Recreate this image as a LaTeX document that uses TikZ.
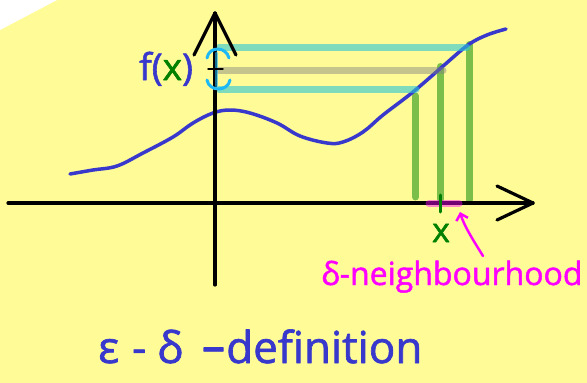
\documentclass[tikz,border=0pt]{standalone}
\usepackage{fontspec}
\setmainfont{Open Sans}[FakeBold=1.5]
\usetikzlibrary{arrows.meta}
\definecolor{bgyellow}{RGB}{255,252,152}
\definecolor{penblue}{RGB}{56,56,204}
\definecolor{bandteal}{RGB}{40,200,215}
\definecolor{bandgray}{RGB}{128,128,128}
\definecolor{greenpen}{RGB}{124,190,74}
\definecolor{darkgreen}{RGB}{0,128,0}
\definecolor{pinkpen}{RGB}{255,0,255}
\definecolor{cyanpen}{RGB}{30,185,245}
\begin{document}
\begin{tikzpicture}[x=1pt,y=-1pt,line cap=round,line join=round,
  axisline/.style={line width=3.2pt,black},
  fcurve/.style={line width=3.5pt,penblue},
  epsband/.style={line width=7pt,bandteal,opacity=0.6},
  midband/.style={line width=7pt,bandgray,opacity=0.45},
  deltaline/.style={line width=7pt,greenpen},
  bracket/.style={line width=3pt,cyanpen},
  lbl/.style={inner sep=0pt,anchor=base west,font=\bfseries}]
\fill[bgyellow] (0,0) rectangle (587,383);
\fill[white] (0,0) -- (57,0) -- (0,30) -- cycle;
\useasboundingbox (0,0) rectangle (587,383);
% delta verticals
\draw[deltaline] (415.5,96) -- (415.5,197);
\draw[deltaline] (440.5,66.5) -- (440.5,199);
\draw[deltaline] (469,44.5) -- (469,200);
% function curve
\draw[fcurve] plot[smooth,tension=0.6] coordinates {(70,174) (93,170) (117,166) (143,153) (173,137) (193,123) (213,113) (230,110) (250,113) (277,123) (300,136) (327,143) (343,142) (363,132) (383,115) (413,92) (442,67) (468,45) (487,35) (506,29)};
% epsilon bands
\draw[epsband] (219,47) -- (467,47);
\draw[midband] (219,70.5) -- (443,70.5);
\draw[epsband] (219,89) -- (416,89);
% axes
\coordinate (ytip) at (215,13);
\coordinate (xtip) at (533,203);
\draw[axisline] (215,285) -- (ytip);
\draw[axisline] (194,55) -- (ytip) -- (236,55);
\draw[axisline] (8,203) -- (xtip);
\draw[axisline] (497,186) -- (xtip) -- (497,220);
% epsilon bracket
\draw[bracket] (207,58) .. controls (209,46) and (226,46) .. (229,58);
\draw[bracket] (207,80) .. controls (209,92) and (228,92) .. (230,80);
\draw[bracket,opacity=0.6] (216,53) -- (216,86);
\draw[line width=1.4pt,black] (208,69) -- (223,69);
% delta band on x-axis
\draw[line width=7pt,pinkpen,opacity=0.45] (429,203.5) -- (459,203.5);
\draw[line width=3pt,darkgreen] (440,195) -- (440,212);
% labels
\node[lbl,text=penblue,font=\fontsize{37}{37}\selectfont] (fx) at (139,80) {f(\textcolor{darkgreen}{x})};
\node[lbl,anchor=base,text=darkgreen,font=\fontsize{34}{34}\selectfont] (xlab) at (441,242) {x};
\node[lbl,text=pinkpen,font=\fontsize{32}{32}\selectfont] (nbh) at (321,285) {δ-neighbourhood};
\node[lbl,text=penblue,font=\fontsize{44}{44}\selectfont] (title) at (98,363) {ε\hspace{13pt}-\hspace{11pt}δ\hspace{18pt}\scalebox{1.8}[1.15]{-}definition};
% arrow
\coordinate (arrowtail) at (483,256);
\coordinate (arrowtip) at (460,212);
\draw[pinkpen,line width=2.5pt,-{Straight Barb[length=6pt,width=12pt]}] (arrowtail) .. controls (475,243) and (464,226) .. (arrowtip);
\end{tikzpicture}
\end{document}
